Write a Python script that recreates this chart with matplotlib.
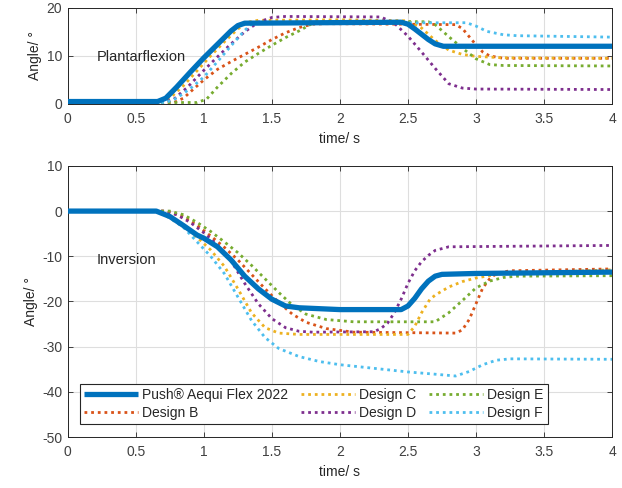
import matplotlib
matplotlib.use("Agg")
import matplotlib.pyplot as plt

plt.rcParams['font.family'] = ['Liberation Sans', 'DejaVu Sans']
plt.rcParams['axes.unicode_minus'] = False

labels = ["Push® Aequi Flex 2022", "Design B", "Design C", "Design D", "Design E", "Design F"]
colors = ["#0072BD", "#D95319", "#EDB120", "#7E2F8E", "#77AC30", "#4DBEEE"]

# ---- Plantarflexion (top) ----
pf_push_t = [0, 0.66, 0.72, 0.8, 0.9, 1.0, 1.1, 1.2, 1.25, 1.3, 2.45, 2.5, 2.55, 2.6, 2.65, 2.7, 2.76, 4.0]
pf_push_y = [0.5, 0.5, 1.2, 3.5, 6.6, 9.6, 12.4, 15.2, 16.3, 16.8, 17.0, 16.6, 15.6, 14.5, 13.4, 12.5, 12.0, 12.0]
pf_b_t = [0, 0.78, 0.85, 0.92, 1.0, 1.1, 1.2, 1.3, 1.4, 1.5, 1.6, 1.7, 1.8, 1.9, 2.85, 2.9, 2.95, 3.0, 3.05, 3.1, 3.2, 4.0]
pf_b_y = [0.3, 0.3, 1.2, 3.0, 5.0, 7.2, 8.8, 10.3, 11.8, 13.4, 14.8, 15.9, 16.6, 16.7, 16.5, 15.7, 14.0, 12.3, 10.8, 10.0, 9.5, 9.5]
pf_c_t = [0, 0.68, 0.75, 0.85, 0.95, 1.05, 1.15, 1.25, 1.32, 1.4, 2.0, 2.5, 2.6, 2.7, 2.8, 2.9, 3.0, 3.2, 4.0]
pf_c_y = [0.3, 0.3, 1.2, 3.8, 6.9, 10.0, 12.9, 15.6, 17.0, 17.4, 17.5, 17.3, 15.8, 13.2, 11.2, 10.3, 9.9, 9.6, 9.5]
pf_d_t = [0, 0.7, 0.78, 0.88, 1.0, 1.1, 1.2, 1.3, 1.4, 1.5, 1.6, 2.3, 2.4, 2.5, 2.6, 2.7, 2.8, 2.9, 3.0, 4.0]
pf_d_y = [0.3, 0.3, 1.0, 3.5, 7.0, 9.8, 12.5, 15.0, 17.0, 18.0, 18.2, 18.1, 16.8, 14.1, 10.8, 7.4, 4.2, 3.3, 3.1, 3.0]
pf_e_t = [0, 0.95, 1.02, 1.1, 1.2, 1.3, 1.4, 1.5, 1.6, 1.7, 1.8, 1.9, 2.65, 2.7, 2.8, 2.9, 3.0, 3.1, 3.2, 4.0]
pf_e_y = [0.3, 0.3, 1.0, 3.5, 6.3, 8.7, 10.5, 12.2, 13.8, 15.2, 16.8, 17.2, 17.1, 16.5, 14.0, 11.6, 9.4, 8.2, 8.0, 7.9]
pf_f_t = [0, 0.72, 0.8, 0.9, 1.0, 1.1, 1.2, 1.3, 1.36, 2.93, 3.0, 3.08, 3.2, 3.3, 4.0]
pf_f_y = [0.3, 0.3, 1.2, 3.2, 5.6, 8.8, 12.1, 15.3, 16.8, 16.9, 16.2, 15.1, 14.4, 14.2, 13.9]

# ---- Inversion (bottom) ----
inv_push_t = [0, 0.65, 0.75, 0.85, 0.95, 1.0, 1.1, 1.2, 1.3, 1.4, 1.5, 1.6, 1.7, 2.0, 2.45, 2.5, 2.55, 2.6, 2.65, 2.7, 2.75, 3.0, 4.0]
inv_push_y = [0, 0, -1.2, -3.2, -5.3, -6.0, -7.9, -10.8, -14.4, -17.2, -19.5, -21.0, -21.4, -21.8, -21.8, -21.0, -19.3, -17.2, -15.5, -14.4, -14.0, -13.8, -13.5]
inv_b_t = [0, 0.72, 0.85, 0.95, 1.05, 1.15, 1.25, 1.35, 1.45, 1.55, 1.65, 1.75, 1.9, 2.1, 2.85, 2.9, 2.95, 3.0, 3.05, 3.1, 3.15, 3.25, 4.0]
inv_b_y = [0, 0, -1.2, -3.2, -5.5, -8.0, -10.8, -14.0, -17.2, -20.2, -22.8, -24.6, -26.0, -26.8, -27.0, -26.3, -24.0, -20.5, -17.0, -15.0, -13.8, -13.2, -12.8]
inv_c_t = [0, 0.65, 0.75, 0.85, 0.95, 1.05, 1.15, 1.25, 1.35, 1.45, 1.55, 1.7, 2.5, 2.55, 2.6, 2.66, 2.7, 2.8, 2.9, 3.0, 3.2, 4.0]
inv_c_y = [0, 0, -1.5, -3.5, -5.8, -8.6, -12.2, -17.2, -22.5, -25.8, -27.0, -27.3, -27.3, -25.5, -22.5, -19.6, -18.6, -16.8, -15.6, -14.8, -13.8, -13.0]
inv_d_t = [0, 0.7, 0.8, 0.9, 1.0, 1.1, 1.2, 1.3, 1.4, 1.5, 1.6, 1.7, 1.8, 2.25, 2.3, 2.35, 2.4, 2.45, 2.5, 2.55, 2.6, 2.65, 2.7, 2.8, 4.0]
inv_d_y = [0, 0, -0.8, -2.5, -4.8, -7.5, -11.0, -16.0, -20.5, -23.8, -25.8, -26.6, -26.8, -26.7, -26.0, -24.8, -22.5, -19.5, -16.0, -13.2, -11.2, -9.8, -8.7, -7.9, -7.6]
inv_e_t = [0, 0.75, 0.85, 0.95, 1.05, 1.15, 1.25, 1.35, 1.45, 1.55, 1.65, 1.75, 1.9, 2.1, 2.7, 2.8, 2.9, 3.0, 3.1, 3.2, 3.3, 4.0]
inv_e_y = [0, 0, -0.8, -2.5, -4.5, -6.8, -9.2, -12.0, -15.0, -18.0, -20.8, -22.8, -24.0, -24.5, -24.5, -22.5, -19.8, -17.0, -15.5, -14.7, -14.4, -14.3]
inv_f_t = [0, 0.65, 0.75, 0.85, 0.95, 1.05, 1.15, 1.25, 1.35, 1.45, 1.55, 1.7, 1.85, 2.0, 2.25, 2.5, 2.7, 2.85, 2.95, 3.05, 3.15, 3.25, 4.0]
inv_f_y = [0, 0, -1.5, -3.6, -6.8, -10.0, -13.8, -19.0, -24.2, -28.0, -30.4, -32.2, -33.3, -34.0, -34.8, -35.6, -36.1, -36.5, -35.5, -34.0, -33.0, -32.7, -32.8]

x_ticks = [0, 0.5, 1, 1.5, 2, 2.5, 3, 3.5, 4]
x_ticklabels = ["0", "0.5", "1", "1.5", "2", "2.5", "3", "3.5", "4"]
pf_yticks = [0, 10, 20]
inv_yticks = [-50, -40, -30, -20, -10, 0, 10]

pf_series = [(pf_push_t, pf_push_y), (pf_b_t, pf_b_y), (pf_c_t, pf_c_y),
             (pf_d_t, pf_d_y), (pf_e_t, pf_e_y), (pf_f_t, pf_f_y)]
inv_series = [(inv_push_t, inv_push_y), (inv_b_t, inv_b_y), (inv_c_t, inv_c_y),
              (inv_d_t, inv_d_y), (inv_e_t, inv_e_y), (inv_f_t, inv_f_y)]

fig = plt.figure(figsize=(6.22, 4.88), dpi=100)
ax1 = fig.add_axes([0.109, 0.787, 0.875, 0.197])
ax2 = fig.add_axes([0.109, 0.1045, 0.875, 0.5555])

axcol = "#262626"
txtcol = "#404040"
fs = 10

def style(ax, yticks, ylim):
    ax.set_xlim(0, 4)
    ax.set_ylim(*ylim)
    ax.set_xticks(x_ticks)
    ax.set_xticklabels(x_ticklabels)
    ax.set_yticks(yticks)
    ax.grid(True, color="#dedede", linewidth=0.8)
    ax.set_axisbelow(True)
    ax.tick_params(direction="in", top=True, right=True, length=3.5, width=0.6,
                   colors=axcol, labelcolor=txtcol, labelsize=fs, pad=4)
    ax.tick_params(axis="x", pad=6)
    for s in ax.spines.values():
        s.set_color(axcol)
        s.set_linewidth(0.7)
    ax.set_xlabel("time/ s", fontsize=fs, color=axcol, labelpad=4)
    ax.set_ylabel("Angle/ °", fontsize=fs, color=axcol, labelpad=3)

def draw(ax, series):
    handles = []
    for i, (t, y) in enumerate(series):
        if i == 0:
            h, = ax.plot(t, y, color=colors[i], lw=3.8, label=labels[i], zorder=3,
                         solid_capstyle="butt")
        else:
            h, = ax.plot(t, y, color=colors[i], lw=2.0, linestyle=(0, (1, 1.4)),
                         label=labels[i], zorder=2)
        handles.append(h)
    return handles

draw(ax1, pf_series)
style(ax1, pf_yticks, (0, 20))
ax1.text(0.21, 9.7, "Plantarflexion", fontsize=fs + 0.5, color="#262626", va="center")

hs = draw(ax2, inv_series)
style(ax2, inv_yticks, (-50, 10))
ax2.text(0.21, -10.8, "Inversion", fontsize=fs + 0.5, color="#262626", va="center")

leg = ax2.legend(handles=hs, loc="lower left", bbox_to_anchor=(0.022, 0.048),
                 borderaxespad=0, ncol=3, fontsize=fs, handlelength=3.9,
                 columnspacing=0.9, handletextpad=0.3, labelspacing=0.25,
                 borderpad=0.3, fancybox=False, framealpha=1)
leg.get_frame().set_edgecolor(axcol)
leg.get_frame().set_linewidth(0.8)
for t in leg.get_texts():
    t.set_color(axcol)

fig.savefig("out.png", dpi=100)
